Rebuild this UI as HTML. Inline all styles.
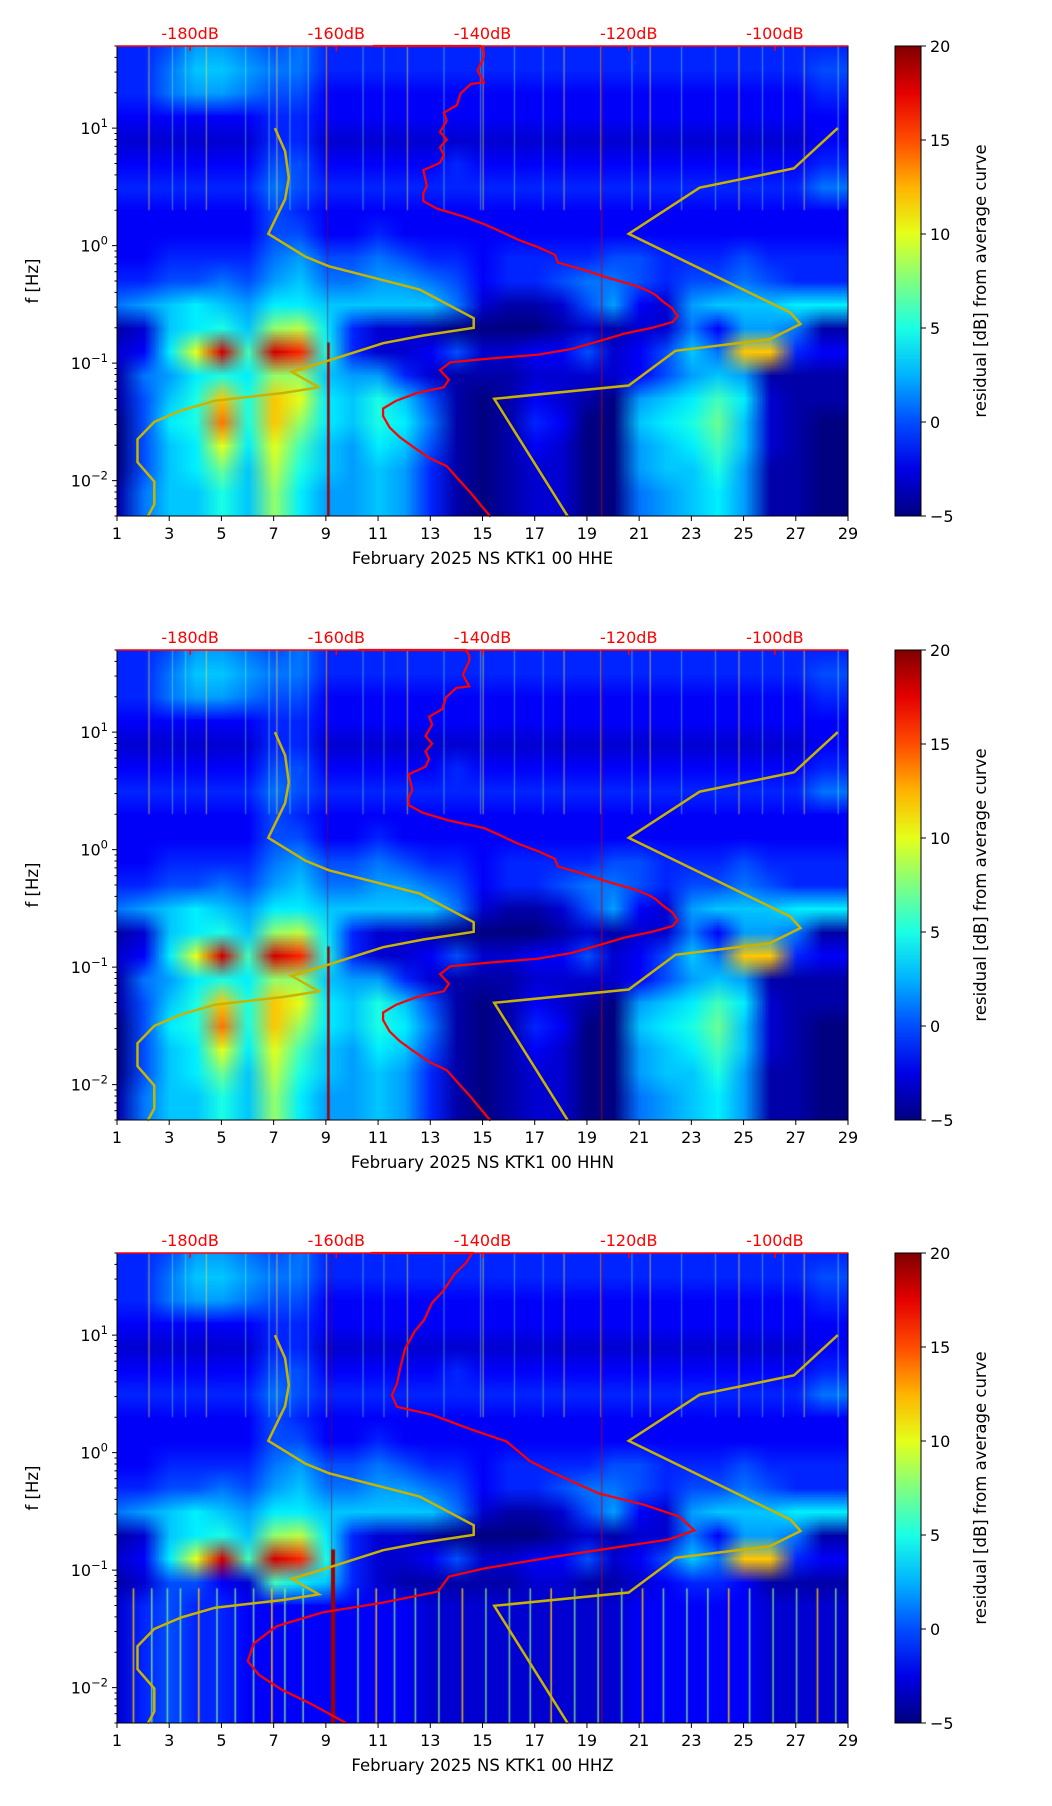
<!DOCTYPE html>
<html><head><meta charset="utf-8">
<style>
html,body{margin:0;padding:0;background:#fff;}
#wrap{position:relative;width:1052px;height:1806px;overflow:hidden;background:#fff;}
canvas{position:absolute;}
svg{position:absolute;left:0;top:0;}
text{font-family:"DejaVu Sans","Liberation Sans",sans-serif;}
</style></head>
<body>
<div id="wrap">
<svg id="ov" width="1052" height="1806"></svg>
</div>
<script>
// ---------- data ----------
const days = [1,3,5,7,9,11,13,15,17,19,21,23,25,27,29];
const dbTicks = [-180,-160,-140,-120,-100];
const cbTicks = [20,15,10,5,0,-5];
const channels = ["HHE","HHN","HHZ"];
const gridHH = [
[-1,-1,0,2,2,1,0,1,-1,-1,-1,-1,-1,-1,-1,-1,-1,-1,-1,-1,-1,-1,-1,-1,-1,-1,-1,-1],
[-1,-1,1,3,3,2,1,1,-1,-1,-1,-1,-1,-1,-1,-1,-1,-1,-1,-1,-1,-1,-1,-1,-1,-1,-1,0],
[-1,-1,1,2,2,1,0,0,-2,-2,-2,-2,-2,-2,-2,-2,-2,-2,-2,-2,-2,-2,-2,-2,-2,-2,-2,-1],
[-2,-2,-2,-2,-2,-2,-1,-1,-2,-2,-2,-2,-2,-2,-2,-2,-2,-2,-2,-2,-2,-2,-2,-2,-2,-2,-2,-2],
[-3,-3,-3,-3,-3,-3,-1,-1,-3,-3,-3,-3,-3,-3,-3,-3,-3,-3,-3,-3,-3,-3,-3,-3,-3,-3,-3,-2],
[-2,-2,-2,-2,-2,-2,0,0,-2,-2,-2,-2,-2,-1,-2,-2,-2,-2,-2,-2,-2,-2,-2,-2,-2,-2,-2,-1],
[-1,-1,-1,-1,-1,-1,1,0,-1,-1,-1,-1,-1,-1,-1,-1,-1,-1,-1,-1,-1,-1,-1,-1,-1,-1,-1,1],
[-2,-2,-2,-2,-2,-2,0,-1,-2,-2,-2,-2,-2,-2,-2,-2,-2,-2,-2,-2,-2,-2,-2,-2,-2,-2,-2,-2],
[-2,-2,-2,-2,-2,-2,0,0,-2,-2,-1,-2,-2,-2,-2,-2,-2,-2,-2,-2,-2,-2,-2,-2,-2,-2,-2,-2],
[-2,-2,-1,-1,-1,-1,1,2,0,0,1,0,-1,-1,-2,-1,-1,-1,-1,0,0,-1,-1,-1,0,-1,-1,-1],
[-1,-1,0,0,1,0,2,3,1,1,2,2,1,0,-2,-1,-1,0,1,1,0,-1,0,0,1,0,-1,-1],
[1,2,3,4,3,2,4,4,3,3,3,3,3,1,-3,-4,-4,-3,0,2,-2,-3,2,3,3,3,4,4],
[-4,-3,3,4,5,3,8,9,4,-1,-3,-3,-4,-5,-5,-5,-5,-4,-3,-4,-3,-3,1,-2,2,2,1,-4],
[-3,-2,4,10,18,6,18,16,5,-1,-3,-3,-2,0,-3,-3,-2,-2,0,-3,-2,0,3,1,12,12,-1,-2],
[-4,1,2,4,5,4,8,8,3,2,2,-1,-3,-4,-4,-4,-3,-3,-3,-3,-2,0,2,3,2,-4,-4,-4],
[-4,0,3,5,12,5,12,10,4,3,5,3,0,-4,-5,-4,-2,-3,-4,-5,2,3,4,6,4,-3,-4,-4],
[-5,0,4,5,14,5,12,8,4,3,5,4,1,-4,-5,-4,-1,-2,-5,-5,3,4,5,7,3,-3,-4,-5],
[-5,0,3,4,10,4,10,6,3,2,4,3,0,-4,-5,-4,-2,-3,-5,-5,2,3,4,6,3,-3,-4,-5],
[-5,0,3,4,7,3,9,5,3,2,3,2,-1,-4,-5,-4,-3,-3,-5,-5,2,3,3,5,2,-4,-4,-5],
[-4,1,3,3,5,3,8,4,2,2,3,2,-1,-4,-5,-4,-3,-3,-5,-5,1,2,3,4,2,-4,-4,-5]
];
const lowZ14 = [-4,-3,0,0,-2,-3,6,4,3,-1,-3,-4,-4,-4,-4,-4,-3,-3,-4,-4,-3,-2,-1,-1,-2,-4,-4,-4];
const lowZ = [-3,-1,0,-1,-1,-2,-2,-2,-2,-2,-2,-2,-3,-3,-3,-3,-3,-3,-3,-3,-2,-2,-2,-2,-2,-3,-3,-3];
const streakDays = [2.2,3.1,3.6,4.4,5.9,6.8,7.1,7.6,8.3,9.0,10.4,11.2,12.1,13.5,14.9,15.0,16.2,17.3,18.1,19.5,20.7,21.4,22.6,23.9,24.8,25.7,26.5,27.3,28.6];
const zSpikeDays = [1.6,2.3,2.9,3.4,4.1,4.8,5.5,6.2,6.9,7.4,8.1,10.2,10.9,11.6,12.4,13.3,14.2,15.1,16.0,16.8,17.6,18.5,19.4,20.3,21.1,21.9,22.8,23.6,24.4,25.2,26.1,27.0,27.8,28.5];
const redDb1 = [-155,-140.3,-139.8,-139.8,-140.7,-139.8,-141.6,-143,-143.5,-145.3,-144.9,-145.8,-144.9,-145.8,-145.3,-145.8,-148.1,-147.6,-148.1,-148.1,-146.2,-142.6,-139.8,-138,-135.2,-132.4,-130.1,-129.7,-126,-122.8,-119.1,-117.2,-116.3,-115.4,-114,-113.3,-114,-116.8,-120.5,-123.2,-127.8,-132.4,-138.9,-144.4,-145.8,-144.6,-145.3,-149,-151.8,-153.6,-153.6,-152.7,-151.3,-149.5,-147.2,-144.9,-143.5,-141.6,-140.3,-138.9];
const redLf1 = [1.699,1.699,1.654,1.605,1.49,1.39,1.376,1.294,1.196,1.131,1.065,0.967,0.902,0.837,0.771,0.706,0.641,0.51,0.444,0.379,0.314,0.248,0.183,0.134,0.052,-0.013,-0.078,-0.144,-0.209,-0.275,-0.34,-0.389,-0.422,-0.471,-0.536,-0.601,-0.65,-0.699,-0.748,-0.797,-0.879,-0.928,-0.961,-0.993,-1.059,-1.141,-1.206,-1.255,-1.32,-1.386,-1.451,-1.549,-1.631,-1.712,-1.81,-1.876,-1.974,-2.105,-2.203,-2.307];
const redDb3 = [-155.3,-141.4,-142.2,-143.8,-145.4,-146.9,-148,-149.3,-150.6,-151.2,-151.7,-152.4,-151.7,-146.9,-141.4,-136.7,-133.5,-130.4,-124.1,-117.8,-113.1,-111,-114.6,-120.9,-130.4,-139.8,-144.6,-146.1,-154,-161.9,-168.2,-171.3,-172.1,-170.6,-167.4,-163.5,-158.7];
const redLf3 = [1.699,1.699,1.619,1.521,1.373,1.275,1.128,1.03,0.882,0.735,0.587,0.489,0.39,0.322,0.194,0.095,-0.072,-0.17,-0.347,-0.445,-0.544,-0.662,-0.74,-0.799,-0.888,-0.986,-1.055,-1.183,-1.281,-1.36,-1.478,-1.625,-1.773,-1.891,-2.019,-2.137,-2.3];
const nlnmDb = [-168.4,-167,-166.5,-167,-169.3,-164.2,-161,-148.6,-141.2,-141.2,-148.1,-153.6,-161,-166.1,-162.4,-167.4,-176.6,-181.2,-184.9,-187.2,-187.2,-184.9,-184.9,-185.8];
const nlnmLf = [1,0.804,0.575,0.395,0.101,-0.095,-0.176,-0.373,-0.618,-0.699,-0.765,-0.83,-0.977,-1.075,-1.206,-1.255,-1.32,-1.402,-1.5,-1.647,-1.843,-2.007,-2.203,-2.307];
const nhnmDb = [-91.4,-97.4,-110.3,-120,-97.9,-96.5,-100.7,-113.6,-120,-138.4,-128.3];
const nhnmLf = [1,0.657,0.493,0.101,-0.569,-0.667,-0.797,-0.895,-1.19,-1.304,-2.307];

// ---------- layout ----------
const L=117, R=848, W=R-L, H=470, tops=[46,650,1253];
const CBX=895, CBW=26;
const LFMAX=Math.log10(50), LFMIN=Math.log10(0.005);
const xDay=d=>L+(d-1)/28*W;
const xDb=db=>L+(db+190)/100*W;
const yLf=(lf,t)=>t+(LFMAX-lf)/(LFMAX-LFMIN)*H;
function jet(v){const t=Math.max(0,Math.min(1,(v+5)/25));const c=x=>Math.round(255*Math.max(0,Math.min(1,x)));
 return [c(1.5-Math.abs(4*t-3)),c(1.5-Math.abs(4*t-2)),c(1.5-Math.abs(4*t-1))];}
const NS='http://www.w3.org/2000/svg';
const ov=document.getElementById('ov');
const wrap=document.getElementById('wrap');
function el(tag,attrs,parent,txt){const e=document.createElementNS(NS,tag);for(const k in attrs)e.setAttribute(k,attrs[k]);if(txt!==undefined)e.textContent=txt;(parent||ov).appendChild(e);return e;}
function poly(dbArr,lfArr,t){return dbArr.map((d,i)=>xDb(d).toFixed(1)+','+yLf(lfArr[i],t).toFixed(1)).join(' ');}

tops.forEach((top,p)=>{
 const small=document.createElement('canvas');small.width=29;small.height=21;
 const sc=small.getContext('2d');const img=sc.createImageData(29,21);
 for(let r=0;r<21;r++)for(let c=0;c<29;c++){
   const rr=Math.min(r,19), cc=Math.min(c,27);
   let v=gridHH[rr][cc];
   if(p===2&&rr===14)v=lowZ14[cc];
   if(p===2&&rr>14)v=lowZ[cc];
   const col=jet(v);const i=(r*29+c)*4;img.data[i]=col[0];img.data[i+1]=col[1];img.data[i+2]=col[2];img.data[i+3]=255;}
 sc.putImageData(img,0,0);
 const cv=document.createElement('canvas');cv.width=W;cv.height=H;cv.style.left=L+'px';cv.style.top=top+'px';
 
 
 wrap.insertBefore(cv,ov);
 const ctx=cv.getContext('2d');ctx.imageSmoothingEnabled=true;
 const cw=W/28, ch=H/20;
 ctx.drawImage(small,-cw/2,-ch/2,29*cw,21*ch);
 streakDays.forEach((d,i)=>{ctx.fillStyle=i%3===0?'rgba(255,230,60,0.5)':'rgba(120,255,200,0.4)';
   ctx.fillRect(xDay(d)-L,0,1.3,yLf(Math.log10(2),0));});
 if(p===2){zSpikeDays.forEach((d,i)=>{ctx.fillStyle=i%4===0?'rgba(255,200,0,0.85)':'rgba(140,255,120,0.75)';
   ctx.fillRect(xDay(d)-L,yLf(Math.log10(0.07),0),1.6,H);});}
 ctx.fillStyle='rgba(160,0,0,0.5)';ctx.fillRect(xDay(p===2?9.2:9.05)-L,0,1,H);
 ctx.fillStyle='#a00000';
 ctx.fillRect(xDay(p===2?9.2:9.05)-L,yLf(Math.log10(0.15),0),p===2?4:2.5,H);
 ctx.fillStyle='rgba(200,0,0,0.8)';ctx.fillRect(xDay(19.55)-L,0,1,H);

 const g=el('g',{});
 el('polyline',{points:poly(nlnmDb,nlnmLf,top),fill:'none',stroke:'#c8b400','stroke-width':2.5,},g);
 el('polyline',{points:poly(nhnmDb,nhnmLf,top),fill:'none',stroke:'#c8b400','stroke-width':2.5,},g);
 const rdb=p===2?redDb3:redDb1.map((d,i)=>p===1&&redLf1[i]>0.2?d-2:d);
 const rlf=p===2?redLf3:redLf1;
 el('polyline',{points:poly(rdb,rlf,top),fill:'none',stroke:'#ff0000','stroke-width':2.2,},g);
 el('rect',{x:L,y:top,width:W,height:H,fill:'none',stroke:'#000','stroke-width':1,},g);
 el('line',{x1:L,y1:top,x2:R,y2:top,stroke:'#ff0000','stroke-width':1.5,},g);
 days.forEach(d=>{const x=xDay(d);
   el('line',{x1:x,y1:top+H,x2:x,y2:top+H+5,stroke:'#000',},g);
   el('text',{x:x,y:top+H+23,'font-size':16,'text-anchor':'middle',},g,String(d));});
 el('text',{x:(L+R)/2,y:top+H+48,'font-size':16.5,'text-anchor':'middle',},g,'February 2025 NS KTK1 00 '+channels[p]);
 dbTicks.forEach(d=>{const x=xDb(d);
   el('line',{x1:x,y1:top,x2:x,y2:top+5,stroke:'#ff0000','stroke-width':1.5,},g);
   el('text',{x:x,y:top-7,'font-size':16,fill:'#ff0000','text-anchor':'middle',},g,d+'dB');});
 for(let e=-3;e<=1;e++){for(let m=1;m<10;m++){const lf=e+Math.log10(m);if(lf<LFMIN-1e-9||lf>LFMAX+1e-9)continue;
   const y=yLf(lf,top);el('line',{x1:L-(m===1?5:2.5),y1:y,x2:L,y2:y,stroke:'#000',},g);
   if(m===1){const t=el('text',{x:L-9,y:y+6,'font-size':16,'text-anchor':'end',},g);
     el('tspan',{},t,'10');el('tspan',{dy:-7,'font-size':11.5},t,(e<0?'\u2212':'')+Math.abs(e));}}}
 el('text',{x:0,y:0,'font-size':16.5,'text-anchor':'middle',transform:`translate(38,${top+H/2}) rotate(-90)`,},g,'f [Hz]');
 const defs=el('defs',{},g);const lg=el('linearGradient',{id:'cb'+p,x1:0,y1:1,x2:0,y2:0},defs);
 for(let k=0;k<=10;k++){const v=-5+25*k/10;const c=jet(v);el('stop',{offset:k/10,'stop-color':`rgb(${c})`},lg);}
 el('rect',{x:CBX,y:top,width:CBW,height:H,fill:`url(#cb${p})`,stroke:'#000','stroke-width':1,},g);
 cbTicks.forEach(v=>{const y=top+(20-v)/25*H;
   el('line',{x1:CBX+CBW,y1:y,x2:CBX+CBW+5,y2:y,stroke:'#000',},g);
   el('text',{x:CBX+CBW+9,y:y+6,'font-size':16,},g,v<0?'\u2212'+Math.abs(v):String(v));});
 el('text',{x:0,y:0,'font-size':16.5,'text-anchor':'middle',transform:`translate(986,${top+H/2}) rotate(-90)`,},g,'residual [dB] from average curve');
});
</script>
</body></html>
